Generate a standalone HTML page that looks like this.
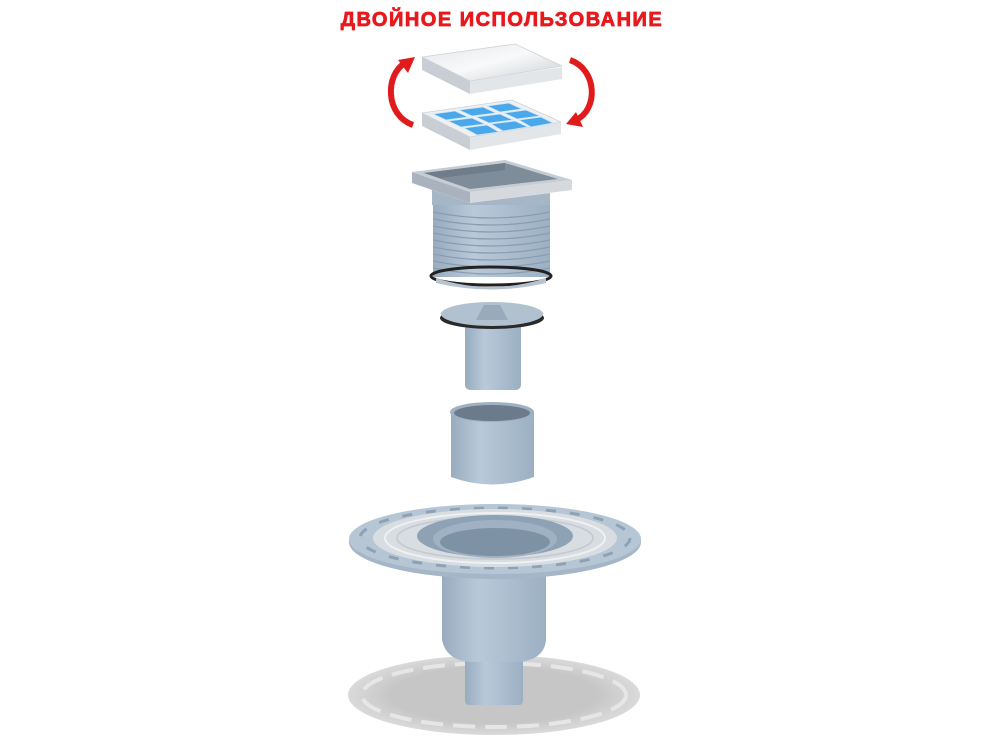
<!DOCTYPE html>
<html><head><meta charset="utf-8"><style>
html,body{margin:0;padding:0;background:#fff;width:1000px;height:750px;overflow:hidden}
svg{display:block}
</style></head><body>
<svg width="1000" height="750" viewBox="0 0 1000 750" xmlns="http://www.w3.org/2000/svg">
<defs>
<linearGradient id="pipe" x1="0" x2="1" y1="0" y2="0">
<stop offset="0" stop-color="#98acbf"/><stop offset="0.35" stop-color="#b8c9d9"/><stop offset="1" stop-color="#9cb0c3"/></linearGradient>
<linearGradient id="metal" x1="0" x2="1" y1="0" y2="1">
<stop offset="0" stop-color="#e4e7ea"/><stop offset="0.5" stop-color="#f8f9fa"/><stop offset="1" stop-color="#c9ced3"/></linearGradient>
<radialGradient id="shadow" cx="0.5" cy="0.5" r="0.5"><stop offset="0.7" stop-color="#c6c6c6"/><stop offset="1" stop-color="#dadada"/></radialGradient>
</defs>
<text x="502" y="26" text-anchor="middle" font-family="Liberation Sans, sans-serif" font-weight="bold" font-size="20" fill="#e8191c" letter-spacing="1.5" stroke="#e8191c" stroke-width="0.8">ДВОЙНОЕ ИСПОЛЬЗОВАНИЕ</text>

<!-- arrows -->
<path d="M413 125 C385 115 385 75 405 63" fill="none" stroke="#e11b1b" stroke-width="6"/>
<polygon points="415,57 398,60 408,73" fill="#e11b1b"/>
<path d="M570 60 C598 70 598 110 576 120" fill="none" stroke="#e11b1b" stroke-width="6"/>
<polygon points="566,124 583,127 576,112" fill="#e11b1b"/>

<!-- top lid -->
<polygon points="422,57 422,70 470,94 470,81" fill="#c9ced4"/>
<polygon points="470,81 562,67 562,79 470,94" fill="#e3e6e9"/>
<polygon points="422,57 515,44 562,66 470,81" fill="url(#metal)" stroke="#cfd3d8" stroke-width="0.8"/>

<!-- grate -->
<polygon points="422,113 422,126 470,150 470,137" fill="#c9ced4"/>
<polygon points="470,137 561,122 561,134 470,150" fill="#e3e6e9"/>
<polygon points="422,113 512,100 561,122 470,137" fill="#eef0f2" stroke="#cfd3d8" stroke-width="0.8"/>
<g fill="#4aa8ea" stroke="#cfe6f8" stroke-width="0.8">
<polygon points="433,114 455,111 468,117 446,120"/>
<polygon points="459,110 483,107 496,113 472,116"/>
<polygon points="487,106 509,103 522,109 500,112"/>
<polygon points="448,121 472,118 485,124 461,127"/>
<polygon points="476,117 500,114 513,120 489,123"/>
<polygon points="504,113 526,110 540,116 517,119"/>
<polygon points="464,128 487,125 499,132 477,135"/>
<polygon points="491,124 515,121 528,127 503,131"/>
<polygon points="519,120 541,117 553,123 531,127"/>
</g>

<!-- frame -->
<polygon points="412,172 412,183 470,203 470,192" fill="#aab3bd"/>
<polygon points="470,192 572,180 572,190 470,203" fill="#d5d9de"/>
<polygon points="412,172 505,160 572,180 470,192" fill="#c5ccd3"/>
<polygon points="424,173 505,163 558,179 470,189" fill="#7f8c99"/>
<polygon points="424,173 505,163 505,170 440,178" fill="#6f7c8a"/>
<polygon points="432,190 470,203 550,193 550,205 470,215 432,205" fill="#a5b6c6"/>

<!-- ribbed body -->
<rect x="433" y="205" width="117" height="72" fill="url(#pipe)"/>
<g stroke="#8a9db0" stroke-width="1.2" fill="none">
<path d="M433 212 Q491 224 550 212"/><path d="M433 219 Q491 231 550 219"/><path d="M433 226 Q491 238 550 226"/>
<path d="M433 233 Q491 245 550 233"/><path d="M433 240 Q491 252 550 240"/><path d="M433 247 Q491 259 550 247"/>
<path d="M433 254 Q491 266 550 254"/><path d="M433 261 Q491 273 550 261"/><path d="M433 268 Q491 280 550 268"/>
</g>
<ellipse cx="491" cy="276" rx="60" ry="9" fill="none" stroke="#222" stroke-width="3"/>
<path d="M436 278 Q491 296 546 278 L546 283 Q491 296 436 283Z" fill="#b5c3d1"/>

<!-- part 2 -->
<rect x="465" y="318" width="56" height="72" rx="5" fill="url(#pipe)"/>
<ellipse cx="492" cy="318" rx="52" ry="11" fill="#2a2a2a"/>
<ellipse cx="492" cy="314" rx="51" ry="12" fill="#b2c1cf"/>
<polygon points="476,320 484,305 500,305 508,320" fill="#98aabb"/>

<!-- part 3 -->
<path d="M451 412 L451 477 Q492 492 534 477 L534 412Z" fill="url(#pipe)"/>
<ellipse cx="492" cy="412" rx="42" ry="10" fill="#9fb0c0"/>
<ellipse cx="492" cy="413" rx="38" ry="8" fill="#6b7b8b"/>

<!-- shadow -->
<ellipse cx="494" cy="695" rx="146" ry="40" fill="url(#shadow)"/>
<ellipse cx="494" cy="695" rx="132" ry="32" fill="none" stroke="#e6e6e6" stroke-width="4" stroke-dasharray="22 10"/>

<!-- bottom pipe -->
<rect x="465" y="640" width="58" height="65" rx="4" fill="url(#pipe)"/>
<path d="M442 560 L442 640 Q446 660 470 662 L518 662 Q544 660 546 640 L546 560Z" fill="url(#pipe)"/>

<!-- big flange -->
<ellipse cx="495" cy="542" rx="146" ry="37" fill="#a4b6c7"/>
<ellipse cx="495" cy="539" rx="146" ry="35" fill="#b7c6d4"/>
<ellipse cx="495" cy="538" rx="135" ry="30" fill="none" stroke="#8ea2b5" stroke-width="3" stroke-dasharray="10 14"/>
<ellipse cx="495" cy="538" rx="122" ry="29" fill="#d8dde2"/>
<ellipse cx="495" cy="538" rx="110" ry="25" fill="none" stroke="#eef1f3" stroke-width="2"/>
<ellipse cx="495" cy="538" rx="98" ry="21" fill="none" stroke="#c3c9cf" stroke-width="1.5"/>
<ellipse cx="495" cy="536" rx="78" ry="21" fill="#8ea2b5"/>
<ellipse cx="495" cy="539" rx="62" ry="19" fill="#9fb1c2"/>
<ellipse cx="495" cy="542" rx="55" ry="14" fill="#7e92a6"/>
</svg>
</body></html>
